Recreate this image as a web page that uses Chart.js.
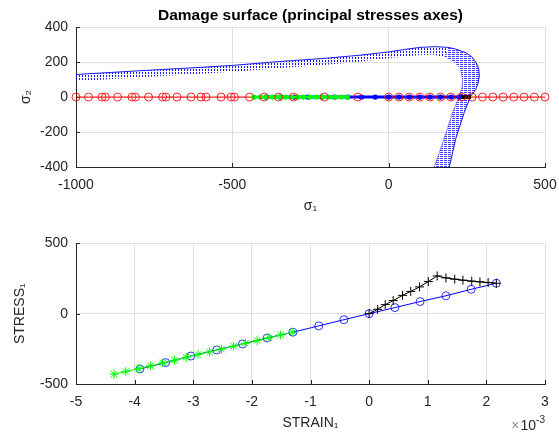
<!DOCTYPE html>
<html><head><meta charset="utf-8">
<script src="https://cdn.jsdelivr.net/npm/chart.js@4"></script>
<style>
html,body{margin:0;padding:0;background:#fff;}
#wrap{position:relative;width:559px;height:435px;overflow:hidden;background:#fff;}
canvas{position:absolute;left:0;display:block;}
#c1{top:0;} #c2{top:218px;}
</style></head><body>
<div id="wrap"><canvas id="c1" width="559" height="218"></canvas><canvas id="c2" width="559" height="217"></canvas></div>
<script>
// ---------- data: top plot (principal stresses) ----------
const sigma1Ticks = [-1000, -500, 0, 500];
const sigma2Ticks = [-400, -200, 0, 200, 400];
const redCircleS1 = [-1000,-960,-917,-906,-867,-821,-810,-768,-723,-712,-677,-632,-600,-584,-536,-504,-493,-445,-398,-352,-304,-206,-99,0,33,66,99,132,166,199,233,267,300,333,366,400,433,466,500];
const topBlueS1 = [-393,-348,-302,-258,-213,-173,-131,-87,-43,0,33,66,99,132,166,200,226];
const topBlackS1 = [224,236,250,263];
// damage surface envelope [sigma1, sigma2]
const surfOuter = [[-1020,127],[-1000,129],[-800,150],[-600,170],[-500,181],[-350,203],[-200,222],[-100,238],[0,258],[50,272],[100,284],[150,288],[190,284],[215,274],[245,255],[265,232],[280,196],[288,160],[290,120],[286,80],[278,42],[263,7],[242,-86],[215,-235],[194,-400],[190,-425]];
const surfInnerTop = [[-1020,89],[-1000,91],[-800,112],[-600,133],[-500,144],[-350,165],[-200,185],[-100,201],[0,222],[50,232],[100,240],[141,242],[178,228]];
const surfInnerRight = [[178,228],[205,205],[222,178],[231,147],[237,100],[234,50],[226,7],[205,-86],[178,-235],[146,-400],[142,-425]];

// ---------- data: bottom plot (strain-stress) ----------
const strainTicks = [-5,-4,-3,-2,-1,0,1,2,3];   // x 10^-3
const stressTicks = [-500, 0, 500];
const blueStrain = [-3.91,-3.47,-3.04,-2.60,-2.16,-1.74,-1.30,-0.86,-0.43,0,0.44,0.87,1.31,1.74,2.17];
const blueStress = [-393,-348,-301,-258,-215,-173,-132,-87,-43,0,43,86,127,173,216];
const blackStrain = [0,0.145,0.275,0.41,0.57,0.71,0.86,1.01,1.16,1.31,1.46,1.60,1.75,1.89,2.03,2.17];
const blackStress = [0,31,64,93,130,158,190,228,268,254,245,238,231,226,221,216];
const greenStrain = [-4.35,-4.15,-3.93,-3.73,-3.52,-3.32,-3.12,-2.92,-2.72,-2.52,-2.31,-2.11,-1.91,-1.71,-1.51,-1.30];
const greenStress = [-430,-411,-391,-371,-350,-331,-310,-290,-272,-252,-231,-211,-191,-171,-151,-132];

// ---------- helpers ----------
const FONT = '"Liberation Sans", Arial, Helvetica, sans-serif';
Chart.defaults.font.family = FONT;
Chart.defaults.color = '#262626';
const pts = (xs, ys) => xs.map((x, i) => ({x, y: ys[i]}));
const onAxis = xs => xs.map(x => ({x, y: 0}));
const pairs = arr => arr.map(([x, y]) => ({x, y}));

function makePattern(w, h, draw) {
  const c = document.createElement('canvas'); c.width = w; c.height = h;
  const g = c.getContext('2d'); draw(g);
  return g.createPattern(c, 'repeat');
}
const patV = makePattern(3, 3, g => { g.fillStyle = 'rgba(0,0,255,0.9)'; g.fillRect(1, 0, 1, 2); });
const patH = makePattern(4, 2, g => { g.fillStyle = 'rgba(0,0,255,0.75)'; g.fillRect(0, 0, 3, 1); });

function axis(ticksArr, min, max, titleText, isX) {
  return {
    type: 'linear', min, max,
    afterBuildTicks: s => { s.ticks = ticksArr.map(v => ({value: v})); },
    ticks: {font: {size: 14}, color: '#262626', padding: isX ? 10 : 8, callback: v => String(v), maxRotation: 0, autoSkip: false},
    grid: {color: '#dfdfdf', drawTicks: false, lineWidth: 1},
    border: {display: true, color: '#262626', width: 1},
    title: {display: true, text: titleText, font: {size: 14}, color: '#262626',
            padding: isX ? {top: 0, bottom: 3} : {top: titleText.startsWith('σ') ? 18 : 12, bottom: 0}},
    afterFit: s => {
      if (isX) s.height = 51; else s.width = 76;
      s.paddingLeft = 0; s.paddingRight = 0; s.paddingTop = 0; s.paddingBottom = 0;
    }
  };
}

const inwardTicks = {
  id: 'inwardTicks',
  beforeDatasetsDraw(chart) {
    const {ctx, chartArea: a, scales: {x, y}} = chart;
    ctx.save(); ctx.strokeStyle = '#262626'; ctx.lineWidth = 1; ctx.beginPath();
    x.ticks.forEach(t => { const p = Math.round(x.getPixelForValue(t.value)) + 0.5; ctx.moveTo(p, a.bottom); ctx.lineTo(p, a.bottom - 4); });
    y.ticks.forEach(t => { const p = Math.round(y.getPixelForValue(t.value)) + 0.5; ctx.moveTo(a.left, p); ctx.lineTo(a.left + 4, p); });
    ctx.stroke(); ctx.restore();
  }
};
// axis exponent label "×10^-3" drawn as base + superscript
const multiplier = {
  id: 'multiplier',
  afterDraw(chart, args, opts) {
    if (!opts.base) return;
    const {ctx, chartArea: a} = chart;
    ctx.save(); ctx.textBaseline = 'alphabetic'; ctx.textAlign = 'left';
    ctx.font = '10px ' + FONT; const wSup = ctx.measureText(opts.sup).width;
    ctx.font = '14px ' + FONT; const wTimes = ctx.measureText('×').width; const wBase = ctx.measureText(opts.base).width;
    const x0 = a.right - wSup - wBase - wTimes - 1;
    ctx.fillStyle = '#8c8c8c'; ctx.fillText('×', x0, 212);
    ctx.fillStyle = '#262626'; ctx.fillText(opts.base, x0 + wTimes + 1, 212);
    ctx.font = '10px ' + FONT; ctx.fillText(opts.sup, x0 + wTimes + 1 + wBase, 205);
    ctx.restore();
  }
};

const common = {responsive: false, animation: false, events: []};

// ---------- top chart ----------
const bandA = surfOuter.slice(0, 13).concat(surfInnerTop.slice().reverse());
const bandB = surfOuter.slice(12).concat(surfInnerRight.slice().reverse());
new Chart(document.getElementById('c1'), {
  type: 'scatter',
  data: {datasets: [
    {data: pairs(bandA), showLine: true, borderWidth: 0, pointRadius: 0, fill: 'shape', backgroundColor: patV, order: 10},
    {data: pairs(bandB), showLine: true, borderWidth: 0, pointRadius: 0, fill: 'shape', backgroundColor: patH, order: 10},
    {data: pairs(surfOuter), showLine: true, borderColor: 'rgba(0,0,255,0.9)', borderWidth: 1, pointRadius: 0, fill: false, order: 9},
    {data: pairs(surfInnerRight.slice(3)), showLine: true, borderColor: 'rgba(0,0,255,0.55)', borderWidth: 0.8, pointRadius: 0, fill: false, order: 9},
    {data: onAxis(redCircleS1), showLine: true, borderColor: '#ff0000', borderWidth: 1, pointRadius: 0, fill: false, order: 8},
    {data: onAxis(topBlackS1), showLine: true, borderColor: '#000000', borderWidth: 4, pointRadius: 0, fill: false, order: 7},
    {data: onAxis(topBlueS1), showLine: true, borderColor: '#0000ff', borderWidth: 3, pointRadius: 2.6, pointBackgroundColor: '#0000ff', pointBorderWidth: 0, fill: false, order: 6},
    {data: onAxis(greenStress), showLine: true, borderColor: '#00ff00', borderWidth: 2.5, pointRadius: 2.6, pointBackgroundColor: '#00ff00', pointBorderWidth: 0, fill: false, order: 5},
    {data: onAxis(redCircleS1), showLine: false, pointRadius: 4, pointBorderColor: 'rgba(255,0,0,0.85)', pointBackgroundColor: 'rgba(0,0,0,0)', pointBorderWidth: 1, clip: false, order: 1}
  ]},
  options: Object.assign({}, common, {
    layout: {padding: {left: 0, right: 14, top: 0, bottom: 0}},
    plugins: {legend: {display: false}, tooltip: {enabled: false},
      title: {display: true, text: 'Damage surface (principal stresses axes)', font: {size: 15.5, weight: 'bold'}, color: '#000', padding: {top: 6, bottom: 2.5}, fullSize: false}},
    scales: {x: axis(sigma1Ticks, -1000, 500, 'σ₁', true), y: axis(sigma2Ticks, -400, 400, 'σ₂', false)}
  }),
  plugins: [inwardTicks]
});

// ---------- bottom chart ----------
new Chart(document.getElementById('c2'), {
  type: 'scatter',
  data: {datasets: [
    {data: pts(blueStrain, blueStress), showLine: true, borderColor: '#0000ff', borderWidth: 1, pointStyle: 'circle', pointRadius: 4, pointBorderColor: 'rgba(0,0,255,0.8)', pointBackgroundColor: 'rgba(0,0,0,0)', pointBorderWidth: 1, clip: false, order: 3},
    {data: pts(blackStrain, blackStress), showLine: true, borderColor: '#000000', borderWidth: 1, pointStyle: 'cross', pointRadius: 4.5, pointBorderColor: '#000', pointBorderWidth: 1, clip: false, order: 2},
    {data: pts(greenStrain, greenStress), showLine: true, borderColor: '#00ff00', borderWidth: 1, pointStyle: 'star', pointRadius: 4.5, pointBorderColor: '#00ff00', pointBorderWidth: 1, clip: false, order: 1}
  ]},
  options: Object.assign({}, common, {
    layout: {padding: {left: 0, right: 14, top: 25.3, bottom: 0}},
    plugins: {legend: {display: false}, tooltip: {enabled: false}, multiplier: {base: '10', sup: '-3'}},
    scales: {x: axis(strainTicks, -5, 3, 'STRAIN₁', true), y: axis(stressTicks, -500, 500, 'STRESS₁', false)}
  }),
  plugins: [inwardTicks, multiplier]
});
</script></body></html>
